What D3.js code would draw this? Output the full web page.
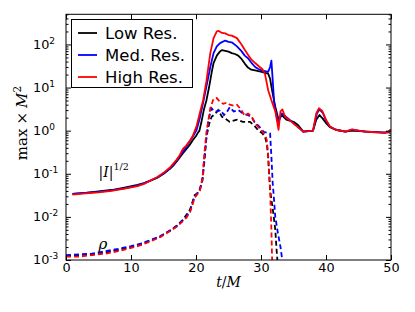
<!DOCTYPE html>
<html>
<head>
<meta charset="utf-8">
<script src="https://cdn.jsdelivr.net/npm/d3@7"></script>
<style>
  body { margin: 0; background: #fff; }
  svg text { font-family: "DejaVu Sans", sans-serif; }
</style>
</head>
<body>
<svg id="chart" width="415" height="312"></svg>
<script>
// |I|^{1/2} curves, [t/M, value]
const lowI = [[1,0.034],[3,0.036],[5,0.039],[7,0.042],[9,0.048],[11,0.055],[12,0.061],[13,0.069],[14,0.08],[15,0.1],[16,0.13],[16.5,0.155],[17,0.19],[17.5,0.24],[18,0.3],[18.5,0.37],[19,0.46],[19.5,0.6],[20,0.75],[20.4,0.95],[20.5,0.97],[20.8,1.5],[21.2,3],[21.6,5],[22,10],[22.4,22],[22.7,37],[23.2,55],[23.7,69],[24,74],[24.5,71],[25,68],[25.5,63],[26,60],[26.5,55],[27,46],[27.5,36],[28,29],[28.5,26],[29.1,25],[29.6,24],[30.1,23],[30.6,22],[31.1,21],[31.4,16],[31.6,10.5],[31.9,6],[32.2,3.6],[32.7,1.8],[33.2,2.3],[33.9,1.8],[35,1.6],[35.7,1.35],[36.5,0.95],[37,0.97],[38,1.0],[38.5,1.8],[39,2.3],[39.5,1.9],[40,1.5],[40.6,1.2],[41.5,1.05],[43,0.95],[44,1.0],[45,0.98],[46,0.96],[47,0.94],[48,0.92],[49,0.9],[49.6,0.92],[50,1.06]];
const medI = [[1,0.034],[3,0.036],[5,0.038],[7,0.041],[9,0.046],[11,0.053],[12,0.06],[13,0.07],[14,0.082],[15,0.1],[16,0.135],[17,0.2],[17.5,0.26],[18,0.33],[18.5,0.42],[19,0.55],[19.5,0.72],[20.1,1.05],[20.6,2],[21.1,4.5],[21.6,10.5],[22.2,30],[22.7,63],[23.2,90],[23.7,107],[24.5,123],[25,115],[25.5,112],[26.3,90],[27,70],[27.5,55],[28,48],[28.5,38],[29.1,30],[29.6,27],[30.1,25],[30.6,24],[31.1,23],[31.4,30],[31.6,42],[31.8,15],[31.9,8.7],[32.05,4],[32.4,2.2],[32.7,1.6],[33.2,2.5],[34.2,1.9],[35,1.5],[36,1.1],[36.5,0.95],[38,1.0],[38.6,2.5],[39,3.1],[39.5,2.6],[40,1.7],[40.6,1.25],[41.5,1.05],[43,0.95],[44,1.05],[45,1.0],[46,0.95],[47,0.93],[48,0.91],[49,0.9],[49.6,0.93],[50,1.06]];
const highI = [[1,0.033],[3,0.035],[5,0.037],[7,0.04],[9,0.045],[11,0.052],[12,0.058],[13,0.07],[14,0.083],[15,0.105],[16,0.14],[17,0.21],[17.5,0.27],[18,0.38],[18.5,0.45],[19.1,0.6],[19.5,0.75],[20.1,1.3],[20.6,2.6],[21.1,5.1],[21.6,14],[22.2,63],[22.7,140],[23.2,200],[23.5,205],[24,185],[24.5,180],[25,165],[25.5,160],[26.3,140],[27,100],[27.5,75],[28,58],[28.5,45],[29.1,37],[29.8,30],[30.2,27],[30.6,21],[31.1,8.7],[31.6,5.1],[32.2,2.8],[32.7,1.05],[33,2.8],[33.3,3.1],[33.7,2.1],[34.7,1.6],[36,1.1],[36.5,0.95],[38,1.0],[38.5,2.5],[38.9,3.3],[39.4,2.9],[40,1.8],[40.6,1.25],[41.5,1.05],[43,0.95],[44,1.07],[45,1.0],[46,0.95],[47,0.93],[48,0.91],[49,0.9],[49.6,0.93],[50,1.06]];

// rho curves (dashed)
const lowRho = [[0,0.00125],[2,0.0013],[4,0.00135],[6,0.0015],[8,0.0017],[10,0.002],[11.5,0.0023],[13,0.0028],[14.5,0.0035],[16,0.0048],[17,0.0062],[18,0.0085],[18.5,0.011],[19.1,0.015],[19.8,0.032],[20.2,0.035],[20.6,0.045],[21,0.07],[21.3,0.2],[21.6,0.7],[22,1.4],[22.4,2.1],[23,2.5],[23.4,3.0],[24,2.1],[24.5,1.9],[25.2,1.6],[26.3,1.8],[27.2,1.6],[28.3,1.6],[29,1.3],[29.6,1.0],[30.1,0.9],[30.6,0.73],[30.9,0.5],[31.1,0.25],[31.4,0.042],[31.9,0.012],[32.2,0.005],[32.4,0.0017],[32.6,0.0007]];
const medRho = [[0,0.0013],[2,0.00135],[4,0.0014],[6,0.0016],[8,0.0018],[10,0.0021],[11.5,0.0024],[13,0.0029],[14.5,0.0036],[16,0.0048],[17,0.006],[18,0.0085],[18.5,0.01],[19.1,0.014],[19.8,0.03],[20.6,0.042],[21,0.08],[21.4,0.35],[21.9,1.8],[22.4,3.3],[22.8,2.8],[23.3,2.8],[23.8,3.0],[24.3,2.3],[24.8,2.8],[25.2,3.5],[25.8,2.8],[26.5,3.0],[27.2,2.5],[28,2.3],[28.6,2.0],[29.1,1.5],[29.6,1.3],[30.4,0.94],[31.4,0.86],[31.6,0.25],[31.8,0.06],[31.9,0.04],[32.2,0.01],[32.6,0.0042],[33,0.002],[33.2,0.0012],[33.3,0.0007]];
const highRho = [[0,0.0012],[2,0.0012],[4,0.0013],[6,0.0014],[8,0.0016],[10,0.0019],[11.5,0.0022],[13,0.0027],[14.5,0.0034],[16,0.0047],[17,0.0059],[18,0.008],[18.5,0.0095],[19.1,0.013],[19.8,0.028],[20.6,0.04],[21,0.08],[21.3,0.3],[21.6,0.9],[22.2,3.3],[22.7,5.5],[23.2,5.7],[23.7,4.6],[24.2,4.2],[24.8,4.5],[25.2,4.0],[25.8,3.8],[26.3,4.0],[27,3.0],[27.5,2.2],[28,2.5],[28.5,2.2],[29.1,1.5],[29.6,1.2],[30.1,0.98],[30.6,0.8],[30.9,0.6],[31.1,0.25],[31.4,0.042],[31.6,0.005],[31.7,0.0012],[31.75,0.0007]];

const labels = ["Low Res.", "Med. Res.", "High Res."];
const colors = ["#000000", "#0000ff", "#ff0000"];
const xTicks = [0, 10, 20, 30, 40, 50];
const yExps = [-3, -2, -1, 0, 1, 2];

const margin = { top: 14.3, right: 24, bottom: 52, left: 66 },
    width = 415 - margin.left - margin.right,
    height = 312 - margin.top - margin.bottom;

const svg = d3.select("#chart");
const g = svg.append("g").attr("transform", `translate(${margin.left},${margin.top})`);

const x = d3.scaleLinear().domain([0, 50]).range([0, width]);
const y = d3.scaleLog().domain([1e-3, 500]).range([height, 0]);

g.append("clipPath").attr("id", "clip")
  .append("rect").attr("width", width).attr("height", height);

const line = d3.line().x(d => x(d[0])).y(d => y(d[1]));

const plot = g.append("g").attr("clip-path", "url(#clip)");
[lowRho, medRho, highRho].forEach((s, i) => {
  plot.append("path").datum(s).attr("d", line)
    .attr("fill", "none").attr("stroke", colors[i])
    .attr("stroke-width", 1.8).attr("stroke-dasharray", "5,3");
});
[lowI, medI, highI].forEach((s, i) => {
  plot.append("path").datum(s).attr("d", line)
    .attr("fill", "none").attr("stroke", colors[i])
    .attr("stroke-width", 1.8).attr("stroke-linejoin", "round");
});

// axes, ticks pointing inward
const yMajor = yExps.map(e => Math.pow(10, e));
const yMinor = [];
yExps.forEach(e => { for (let k = 2; k <= 9; k++) { const v = k * Math.pow(10, e); if (v <= 500) yMinor.push(v); } });

function styleAxis(sel) {
  sel.select(".domain").remove();
  sel.selectAll("line").attr("stroke", "#000");
}
g.append("g").attr("transform", `translate(0,${height})`)
  .call(d3.axisBottom(x).tickValues(xTicks).tickSize(-5).tickPadding(3))
  .call(styleAxis)
  .selectAll("text").attr("font-size", 12.8).attr("fill", "#000")
  .style("font-family", "DejaVu Sans");
g.append("g").call(d3.axisTop(x).tickValues(xTicks).tickSize(-5).tickFormat("")).call(styleAxis);
g.append("g").call(d3.axisLeft(y).tickValues(yMajor).tickSize(-5).tickFormat("")).call(styleAxis);
g.append("g").call(d3.axisLeft(y).tickValues(yMinor).tickSize(-2.5).tickFormat("")).call(styleAxis);
g.append("g").attr("transform", `translate(${width},0)`)
  .call(d3.axisRight(y).tickValues(yMajor).tickSize(-5).tickFormat("")).call(styleAxis);
g.append("g").attr("transform", `translate(${width},0)`)
  .call(d3.axisRight(y).tickValues(yMinor).tickSize(-2.5).tickFormat("")).call(styleAxis);

// y tick labels 10^n
yExps.forEach(e => {
  const t = g.append("text").attr("x", -33).attr("y", y(Math.pow(10, e)) + 4.5)
    .attr("font-size", 12.8).attr("fill", "#000");
  t.append("tspan").text("10");
  t.append("tspan").attr("dy", -5).attr("font-size", 9).text(e < 0 ? "-" + (-e) : e);
});

g.append("rect").attr("width", width).attr("height", height)
  .attr("fill", "none").attr("stroke", "#000").attr("stroke-width", 1);

// curve annotations
const ann = g.append("text").attr("x", x(5.0)).attr("y", y(0.085))
  .style("font-family", "DejaVu Serif").attr("font-size", 14).attr("fill", "#000");
ann.append("tspan").text("|");
ann.append("tspan").attr("font-style", "italic").text("I");
ann.append("tspan").text("|");
ann.append("tspan").attr("dy", -7).attr("font-size", 9.5).text("1/2");
g.append("text").attr("x", x(5.0)).attr("y", y(0.0018))
  .style("font-family", "DejaVu Serif").attr("font-style", "italic")
  .attr("font-size", 15).attr("fill", "#000").text("ρ");

// axis labels
const xl = g.append("text").attr("x", width / 2).attr("y", height + 27)
  .attr("text-anchor", "middle").style("font-family", "DejaVu Serif")
  .attr("font-size", 14).attr("font-style", "italic").attr("fill", "#000");
xl.append("tspan").text("t");
xl.append("tspan").attr("font-style", "normal").text("/");
xl.append("tspan").text("M");

const yl = svg.append("text").attr("transform", "translate(27,123) rotate(-90)")
  .attr("text-anchor", "middle").style("font-family", "DejaVu Serif")
  .attr("font-size", 15).attr("fill", "#000");
yl.append("tspan").text("max");
yl.append("tspan").attr("dx", 4).text("×");
yl.append("tspan").attr("dx", 4).attr("font-style", "italic").text("M");
yl.append("tspan").attr("dy", -6).attr("font-size", 10.5).text("2");

// legend
const lg = svg.append("g");
lg.append("rect").attr("x", 71.5).attr("y", 19.5).attr("width", 121).attr("height", 68)
  .attr("fill", "#fff").attr("stroke", "#000").attr("stroke-width", 1);
labels.forEach((lab, i) => {
  const ly = 33 + i * 22;
  lg.append("line").attr("x1", 78).attr("x2", 97).attr("y1", ly).attr("y2", ly)
    .attr("stroke", colors[i]).attr("stroke-width", 1.8);
  lg.append("text").attr("x", 105).attr("y", ly + 6)
    .attr("font-size", 16.5).attr("fill", "#000").text(lab);
});
</script>
</body>
</html>
